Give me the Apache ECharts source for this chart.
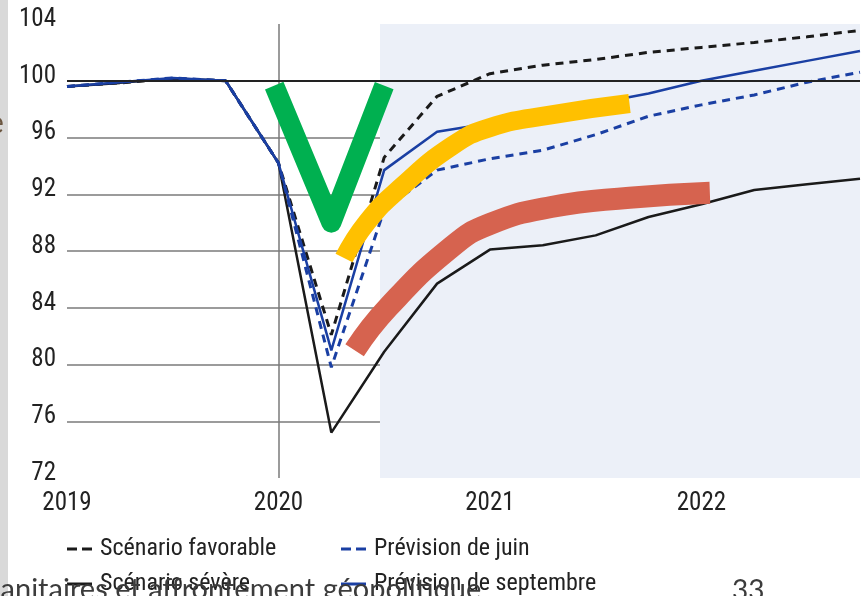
<!DOCTYPE html>
<html>
<head>
<meta charset="utf-8">
<script src="https://cdn.jsdelivr.net/npm/echarts@6/dist/echarts.min.js"></script>
<style>
  html, body { margin: 0; padding: 0; background: #fff; }
  #chart { width: 861px; height: 596px; }
</style>
</head>
<body>
<div id="chart"></div>
<script>
  // trimestres
  const trimestres = [2019, 2019.25, 2019.5, 2019.75, 2020, 2020.25, 2020.5, 2020.75,
                      2021, 2021.25, 2021.5, 2021.75, 2022, 2022.25, 2022.5, 2022.75];
  const favorable = [99.6, 99.85, 100.15, 100.0, 94.2, 82.1, 94.6, 98.9, 100.5, 101.1, 101.5, 102.0, 102.35, 102.7, 103.1, 103.55];
  const severe    = [99.6, 99.85, 100.15, 100.0, 94.2, 75.2, 80.9, 85.7, 88.1, 88.4, 89.1, 90.4, 91.3, 92.3, 92.7, 93.1];
  const juin      = [99.6, 99.9, 100.2, 100.0, 94.2, 79.8, 90.9, 93.7, 94.5, 95.1, 96.2, 97.5, 98.3, 99.0, 99.9, 100.6];
  const septembre = [99.6, 99.9, 100.2, 100.0, 94.2, 81.0, 93.7, 96.4, 97.0, 97.7, 98.4, 99.1, 100.0, 100.7, 101.4, 102.1];
  const anneesTicks = [2019, 2020, 2021, 2022];
  const zoneProjection = [2020.48, 2022.75];

  // annotations dessinées à la main sur la slide
  const traitV = [[2019.98, 99.65], [2020.25, 90.0], [2020.5, 99.65]];
  const traitJaune = [[2020.31, 87.5], [2020.42, 90.05], [2020.58, 92.5], [2020.82, 95.4], [2021.0, 96.7], [2021.29, 97.6], [2021.66, 98.4]];
  const traitRouge = [[2020.36, 81.0], [2020.52, 84.05], [2020.82, 88.3], [2021.0, 89.9], [2021.29, 91.1], [2021.66, 91.75], [2022.04, 92.1]];

  const narrow = '"Liberation Sans Narrow", "Arial Narrow", "Roboto Condensed", sans-serif';
  const noir = '#1a1a1a';
  const bleu = '#1a3fa3';
  const iconTirets = 'path://M0,0h10v3h-10z M15,0h10v3h-10z';
  const iconPlein = 'path://M0,0h25v3h-25z';

  function pts(vals) {
    let out = [];
    for (let i = 0; i < trimestres.length; i++) {
      out.push([trimestres[i], vals[i]]);
    }
    return out;
  }

  let legendCommon = {
    top: 537, orient: 'vertical', itemGap: 11, padding: 0,
    itemWidth: 25, itemHeight: 3,
    textStyle: { color: '#222', fontFamily: narrow, fontSize: 24, lineHeight: 24, padding: [0, 0, 0, 3] }
  };

  let chart = echarts.init(document.getElementById('chart'));
  chart.setOption({
    animation: false,
    grid: { left: 67, right: 1, top: 24, bottom: 118, containLabel: false },
    xAxis: {
      type: 'value',
      min: 2019,
      max: 2022.75,
      interval: 1,
      z: 1,
      axisLine: { show: false },
      axisTick: { show: false },
      axisLabel: {
        color: '#222', fontFamily: narrow, fontSize: 25, margin: 13,
        showMaxLabel: false,
        formatter: v => anneesTicks.indexOf(v) >= 0 ? String(v) : ''
      },
      splitLine: { show: true, showMinLine: false, showMaxLine: false, lineStyle: { color: '#7a7a7a', width: 1.5 } }
    },
    yAxis: {
      type: 'value',
      min: 72,
      max: 104,
      interval: 4,
      z: 1,
      axisLine: { show: false },
      axisTick: { show: false },
      axisLabel: {
        color: '#222', fontFamily: narrow, fontSize: 25, margin: 11,
        verticalAlign: 'bottom', lineHeight: 9
      },
      splitLine: { show: true, showMinLine: false, showMaxLine: false, lineStyle: { color: '#7a7a7a', width: 1.5 } }
    },
    legend: [
      Object.assign({}, legendCommon, {
        left: 67,
        data: [{ name: 'Scénario favorable', icon: iconTirets }, { name: 'Scénario sévère', icon: iconPlein }]
      }),
      Object.assign({}, legendCommon, {
        left: 341,
        data: [{ name: 'Prévision de juin', icon: iconTirets }, { name: 'Prévision de septembre', icon: iconPlein }]
      })
    ],
    series: [
      {
        name: 'zone',
        type: 'line',
        z: 0,
        data: [],
        markArea: {
          silent: true,
          itemStyle: { color: '#ecf0f8' },
          data: [[{ xAxis: zoneProjection[0] }, { xAxis: zoneProjection[1] }]]
        }
      },
      {
        name: 'base100',
        type: 'line',
        z: 1.5,
        data: [],
        markLine: {
          silent: true,
          symbol: 'none',
          label: { show: false },
          lineStyle: { type: 'solid', color: '#222', width: 1.8 },
          data: [{ yAxis: 100 }]
        }
      },
      {
        name: 'Scénario favorable', type: 'line', data: pts(favorable),
        symbol: 'none', color: noir,
        lineStyle: { color: noir, width: 3, type: [8, 6] }
      },
      {
        name: 'Scénario sévère', type: 'line', data: pts(severe),
        symbol: 'none', color: noir,
        lineStyle: { color: noir, width: 2.5 }
      },
      {
        name: 'Prévision de juin', type: 'line', data: pts(juin),
        symbol: 'none', color: bleu,
        lineStyle: { color: bleu, width: 3, type: [8, 6] }
      },
      {
        name: 'Prévision de septembre', type: 'line', data: pts(septembre),
        symbol: 'none', color: bleu,
        lineStyle: { color: bleu, width: 2.5 }
      },
      // annotations
      {
        name: 'rouge', type: 'line', data: traitRouge, z: 4, smooth: 0.5,
        symbol: 'none', lineStyle: { color: '#d6634f', width: 22, cap: 'butt' }
      },
      {
        name: 'jaune', type: 'line', data: traitJaune, z: 4, smooth: 0.5,
        symbol: 'none', lineStyle: { color: '#ffc000', width: 19, cap: 'butt' }
      },
      {
        name: 'V', type: 'line', data: traitV, z: 5,
        symbol: 'none', lineStyle: { color: '#00b050', width: 20, cap: 'butt', join: 'round' }
      }
    ],
    graphic: [
      { type: 'rect', left: 0, top: 0, z: 10, shape: { width: 8, height: 596 }, style: { fill: '#d9d9d9' } },
      { type: 'text', left: -12, top: 108, z: 11, style: { text: 'e', fill: '#6b5640', font: '30px Lato, sans-serif' } },
      { type: 'text', left: -12, top: 575, z: 11, style: { text: 'sanitaires et affrontement géopolitique', fill: '#3c3c3c', font: '29px Lato, sans-serif' } },
      { type: 'text', left: 732, top: 577, z: 11, style: { text: '33', fill: '#3c3c3c', font: '28px Lato, sans-serif' } }
    ]
  });
</script>
</body>
</html>
